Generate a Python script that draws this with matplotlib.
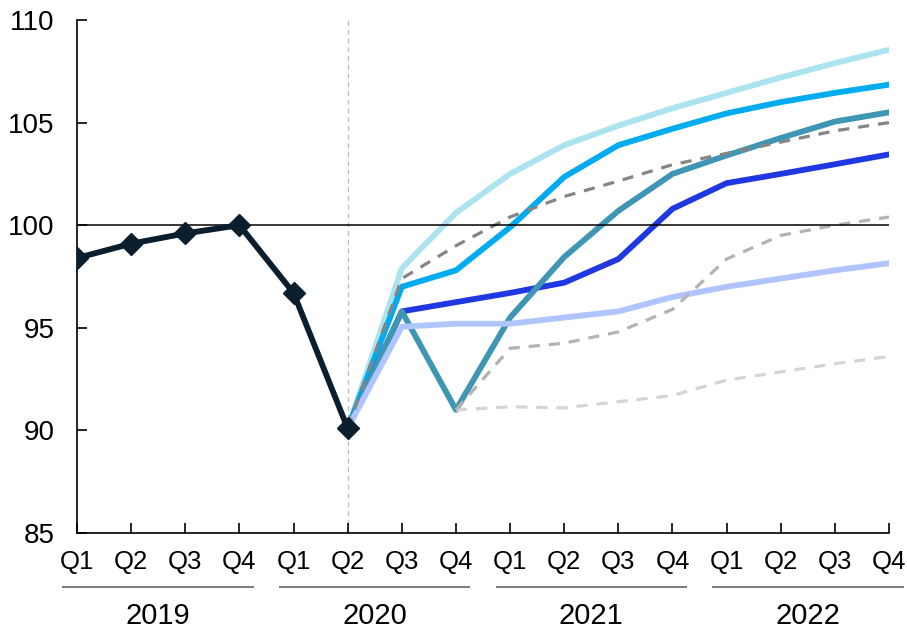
import matplotlib
matplotlib.use("Agg")
import matplotlib.pyplot as plt
import numpy as np

plt.rcParams['font.family'] = ['Liberation Sans', 'DejaVu Sans']

quarters = ['Q1', 'Q2', 'Q3', 'Q4'] * 4
years = ['2019', '2020', '2021', '2022']

# history, Q1 2019 .. Q2 2020
history = [98.4, 99.1, 99.6, 100.0, 96.7, 90.1]

# scenarios, Q2 2020 .. Q4 2022
light_cyan = [90.1, 97.9, 100.6, 102.5, 103.9, 104.85, 105.7, 106.45, 107.2, 107.9, 108.55]
bright_blue = [90.1, 97.0, 97.8, 99.9, 102.35, 103.9, 104.7, 105.45, 106.0, 106.45, 106.85]
blue = [90.1, 95.8, 96.25, 96.7, 97.2, 98.35, 100.8, 102.05, 102.5, 102.97, 103.45]
teal = [90.1, 95.8, 91.0, 95.5, 98.45, 100.7, 102.5, 103.4, 104.25, 105.05, 105.5]
periwinkle = [90.1, 95.05, 95.2, 95.2, 95.5, 95.8, 96.5, 97.0, 97.4, 97.8, 98.15]
dash_dark = [90.1, 97.4, 99.0, 100.4, 101.4, 102.15, 102.95, 103.5, 104.05, 104.6, 105.0]
# Q4 2020 .. Q4 2022
dash_mid = [91.0, 94.0, 94.25, 94.8, 95.9, 98.35, 99.5, 100.0, 100.4]
dash_light = [91.0, 91.15, 91.1, 91.4, 91.7, 92.45, 92.85, 93.25, 93.6]

x_hist = np.arange(len(history))
x_scen = np.arange(5, 16)
x_late = np.arange(7, 16)

fig = plt.figure(figsize=(9.07, 6.31), dpi=100)
ax = fig.add_axes([0.0849, 0.1553, 0.8953, 0.813])

ax.axvline(5, color='#bbbbbb', lw=0.9, ls=(0, (4, 3)), zorder=1)

lw = 4.2
ax.plot(x_scen, light_cyan, color='#abe4ef', lw=lw, zorder=2)
ax.plot(x_scen, bright_blue, color='#00acef', lw=lw, zorder=2)
ax.plot(x_scen, blue, color='#2038e2', lw=lw, zorder=2)
ax.plot(x_scen, teal, color='#3e96b4', lw=lw, zorder=2)
ax.plot(x_scen, periwinkle, color='#b0c4ff', lw=lw, zorder=2)

dash = (0, (3.5, 2.8))
ax.plot(x_late, dash_light, color='#d4d4d4', lw=2.3, ls=dash, zorder=3)
ax.plot(x_late, dash_mid, color='#b3b3b3', lw=2.3, ls=dash, zorder=3)
ax.plot(x_scen, dash_dark, color='#858585', lw=2.3, ls=dash, zorder=3)

ax.axhline(100, color='black', lw=1.1, zorder=4)

ax.plot(x_hist, history, color='#0b1e2d', lw=4.2, marker='D', markersize=11, zorder=5)

ax.set_xlim(0, 15)
ax.set_ylim(85, 110)
ax.set_yticks(np.arange(85, 111, 5))
ax.set_xticks(np.arange(16))
ax.set_xticklabels(quarters)

for s in ['top', 'right']:
    ax.spines[s].set_visible(False)
for s in ['left', 'bottom']:
    ax.spines[s].set_linewidth(1.2)

ax.tick_params(axis='both', direction='in', length=7, width=1.2)
ax.tick_params(axis='x', pad=12, labelsize=18.5)
ax.tick_params(axis='y', pad=16, labelsize=20)

# year brackets under the quarter labels
trans = ax.get_xaxis_transform()
for i, yr in enumerate(years):
    ax.plot([i * 4 - 0.25, i * 4 + 3.25], [-0.105, -0.105], color='#808080',
            lw=1.5, transform=trans, clip_on=False)
    ax.text(i * 4 + 1.5, -0.161, yr, transform=trans, ha='center', va='center',
            fontsize=21)

fig.savefig('out.png', dpi=100)
